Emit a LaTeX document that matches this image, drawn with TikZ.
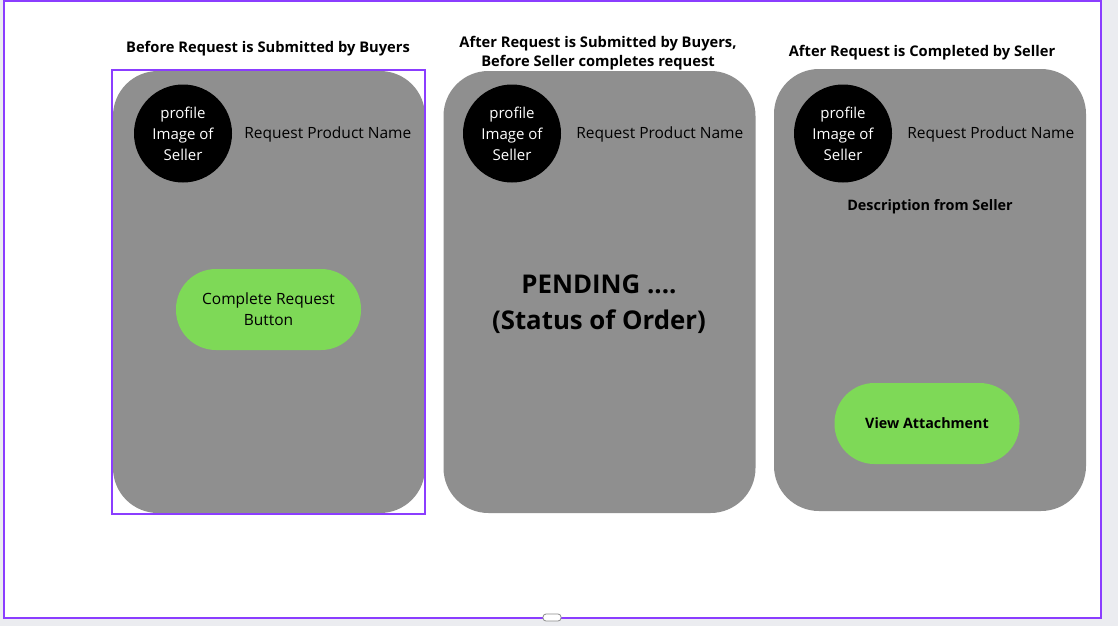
\documentclass[tikz,border=0pt]{standalone}
\usepackage{fontspec}
\setmainfont{Open Sans}
\usetikzlibrary{positioning}
\definecolor{pagegray}{HTML}{EBECF0}
\definecolor{framepurple}{HTML}{8B3DFF}
\definecolor{cardgray}{HTML}{8F8F8F}
\definecolor{btngreen}{HTML}{7ED957}
\begin{document}
\begin{tikzpicture}[x=1pt,y=-1pt,
    card/.style={fill=cardgray,rounded corners=45pt,minimum width=312pt,minimum height=442pt,inner sep=0pt},
    avatar/.style={circle,fill=black,text=white,minimum size=98pt,inner sep=0pt,align=center,font=\fontsize{15}{21}\selectfont},
    prodname/.style={anchor=west,inner sep=0pt,font=\fontsize{15.5}{18}\selectfont},
    pillbtn/.style={fill=btngreen,rounded corners=40pt,minimum width=185pt,minimum height=81pt,align=center,inner sep=0pt},
    heading/.style={align=center,font=\fontsize{14.7}{19}\selectfont\bfseries}]
    % page and frame
    \fill[pagegray] (0,0) rectangle (1118,626);
    \useasboundingbox (0,0) rectangle (1118,626);
    \draw[framepurple,line width=2pt,fill=white] (4,1) rectangle (1101,618);
    \draw[black!45,line width=0.8pt,fill=white,rounded corners=3pt] (543,614) rectangle (561,621);
    % headings
    \node[heading] (head1) at (268,49) {Before Request is Submitted by Buyers};
    \node[heading] (head2) at (598,53.5) {After Request is Submitted by Buyers,\\Before Seller completes request};
    \node[heading] (head3) at (922,53) {After Request is Completed by Seller};
    % cards
    \node[card] (card1) at (269,292) {};
    \node[card] (card2) at (599.5,292) {};
    \node[card] (card3) at (930,290) {};
    \draw[framepurple,line width=1.5pt] (112,70) rectangle (425,514);
    % avatars and product names
    \node[avatar] (avatar1) at (183,133.5) {profile\\Image of\\Seller};
    \node[avatar] (avatar2) at (512,133.5) {profile\\Image of\\Seller};
    \node[avatar] (avatar3) at (843,133.5) {profile\\Image of\\Seller};
    \node[prodname,right=12pt of avatar1,yshift=-0.5pt] (name1) {Request Product Name};
    \node[prodname,right=15pt of avatar2,yshift=-0.5pt] (name2) {Request Product Name};
    \node[prodname,right=15pt of avatar3,yshift=-0.5pt] (name3) {Request Product Name};
    % card contents
    \node[pillbtn,font=\fontsize{15.5}{21}\selectfont] (complete) at (268.5,309.5) {Complete Request\\Button};
    \node[align=center,font=\fontsize{25.8}{36}\selectfont\bfseries] (pending) at (599,304) {PENDING ....\\(Status of Order)};
    \node[font=\fontsize{14.4}{18}\selectfont\bfseries] (descr) at (930,207) {Description from Seller};
    \node[pillbtn,font=\fontsize{14.3}{18}\selectfont\bfseries] (attach) at (927,423.5) {View Attachment};
\end{tikzpicture}
\end{document}
